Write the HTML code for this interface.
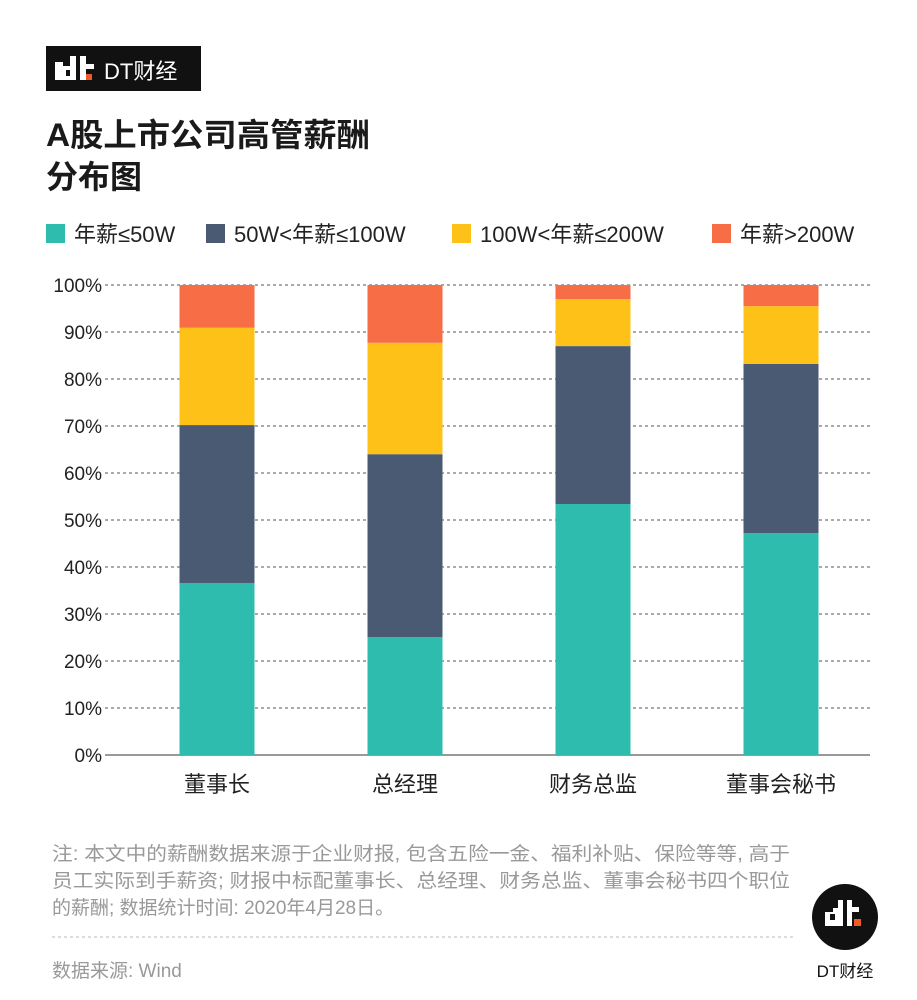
<!DOCTYPE html>
<html><head><meta charset="utf-8"><style>
body{margin:0;background:#fff;font-family:"Liberation Sans","Noto Sans CJK SC",sans-serif}
svg{display:block}
</style></head><body>
<svg width="917" height="1000" font-family="Liberation Sans, Noto Sans CJK SC, sans-serif">
<g>
<rect x="46" y="46" width="155" height="45" fill="#111"/>
<rect x="55" y="62" width="8" height="18" fill="#fff"/><rect x="63" y="66" width="10" height="14" fill="#fff"/><rect x="66" y="70" width="4" height="6" fill="#111"/><rect x="70" y="56" width="6" height="24" fill="#fff"/>
<rect x="80" y="56" width="6" height="24" fill="#fff"/><rect x="86" y="64" width="8" height="5" fill="#fff"/><rect x="86" y="74" width="6" height="6" fill="#f05a28"/>
<text x="104" y="79" font-size="22" fill="#fff">DT财经</text>
</g>
<text font-size="32" font-weight="bold" fill="#1a1a1a"><tspan x="46" y="146" textLength="324" lengthAdjust="spacingAndGlyphs">A股上市公司高管薪酬</tspan><tspan x="46" y="188">分布图</tspan></text>
<g id="legend" font-size="22" fill="#222"></g>
<g id="plot"></g>
<g font-size="19" fill="#999">
<text x="52" y="860" textLength="738" lengthAdjust="spacingAndGlyphs">注: 本文中的薪酬数据来源于企业财报, 包含五险一金、福利补贴、保险等等, 高于</text>
<text x="52" y="887" textLength="738" lengthAdjust="spacingAndGlyphs">员工实际到手薪资; 财报中标配董事长、总经理、财务总监、董事会秘书四个职位</text>
<text x="52" y="914">的薪酬; 数据统计时间: 2020年4月28日。</text>
<line x1="52" y1="937" x2="795" y2="937" stroke="#bbb" stroke-dasharray="3,3"/>
<text x="52" y="977">数据来源: Wind</text>
</g>
<g>
<circle cx="845" cy="917" r="33" fill="#111"/>
<rect x="825" y="912" width="8" height="14" fill="#fff"/><rect x="833" y="908" width="8" height="18" fill="#fff"/><rect x="830" y="914" width="5" height="6" fill="#111"/><rect x="838" y="900" width="5" height="26" fill="#fff"/>
<rect x="847" y="900" width="5" height="26" fill="#fff"/><rect x="852" y="907" width="7" height="5" fill="#fff"/><rect x="854" y="919" width="7" height="7" fill="#f05a28"/>
<text x="845" y="977" font-size="17" text-anchor="middle" fill="#111">DT财经</text>
</g>
</svg>
<script>
const categories=["董事长","总经理","财务总监","董事会秘书"];
const seriesNames=["年薪≤50W","50W<年薪≤100W","100W<年薪≤200W","年薪>200W"];
const s1=[36.6,25.1,53.4,47.2];
const s2=[33.6,38.9,33.6,36.0];
const s3=[20.7,23.7,10.0,12.3];
const s4=[9.1,12.3,3.0,4.5];
const yTicks=[0,10,20,30,40,50,60,70,80,90,100];
const colors=["#2ebcae","#4a5a73","#fdc117","#f76d45"];
const NS="http://www.w3.org/2000/svg";
const y=v=>755-v*4.7, x=i=>217+i*188;
const plot=document.getElementById('plot');
function mk(t,a,p){const e=document.createElementNS(NS,t);for(const k in a)e.setAttribute(k,a[k]);(p||plot).appendChild(e);return e;}
yTicks.forEach(t=>{
 const l=mk('line',{x1:105,x2:870,y1:y(t),y2:y(t),stroke:t?'#555':'#333','stroke-dasharray':t?'3,3':'none'});
 
 
 const tx=mk('text',{x:102,y:y(t)+7,'text-anchor':'end','font-size':19,fill:'#222'});tx.textContent=t+'%';
 
 
});
const series=[s1,s2,s3,s4];
categories.forEach((c,i)=>{
 let acc=0;
 series.forEach((s,j)=>{
  const r=mk('rect',{x:x(i)-37.5,width:75,y:y(acc+s[i]),height:s[i]*4.7,fill:colors[j]});
  
  
  acc+=s[i];
 });
 const t=mk('text',{x:x(i),y:792,'text-anchor':'middle','font-size':22,fill:'#222'});t.textContent=c;
 
 
});
const lg=document.getElementById('legend');
const lx=[46,206,452,712];
seriesNames.forEach((n,j)=>{
 const r=mk('rect',{x:lx[j],y:224,width:19,height:19,fill:colors[j]},lg);
 
 
 const t=mk('text',{x:lx[j]+28,y:242},lg);t.textContent=n;
 
 
});
</script>
</body></html>
